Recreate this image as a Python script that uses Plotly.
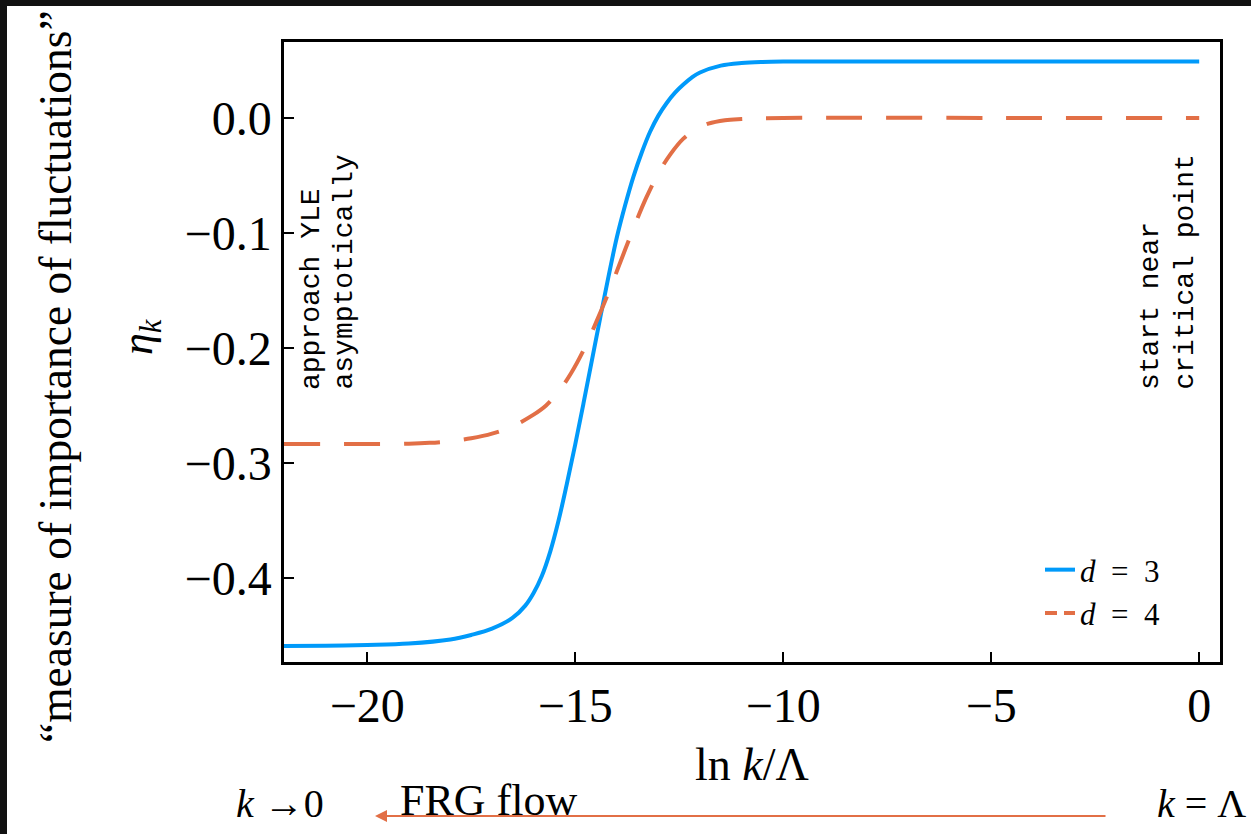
import plotly.graph_objects as go

# ---- data ----
x_d3 = [-22, -21, -20, -19, -18, -17.5, -17, -16.5, -16.2, -16.0, -15.8, -15.6,
        -15.4, -15.2, -15.0, -14.8, -14.6, -14.4, -14.2, -14.0, -13.8, -13.6,
        -13.4, -13.2, -13.0, -12.8, -12.6, -12.4, -12.2, -12.0, -11.5, -11.0,
        -10.5, -10, -5, 0]
eta_d3 = [-0.459, -0.4588, -0.4582, -0.4570, -0.4535, -0.4495, -0.4440, -0.4345,
          -0.424, -0.413, -0.398, -0.377, -0.350, -0.318, -0.284, -0.248, -0.211,
          -0.174, -0.138, -0.104, -0.076, -0.051, -0.030, -0.012, 0.002, 0.013,
          0.022, 0.029, 0.035, 0.0395, 0.0455, 0.0478, 0.0487, 0.049, 0.049, 0.049]

x_d4 = [-22, -20, -19, -18.5, -18, -17.5, -17, -16.5, -16.0, -15.7, -15.4, -15.1,
        -14.8, -14.5, -14.2, -13.9, -13.6, -13.3, -13.0, -12.7, -12.4, -12.1,
        -11.8, -11.4, -11, -10, -5, 0]
eta_d4 = [-0.2835, -0.2835, -0.2832, -0.2825, -0.281, -0.2785, -0.2745, -0.268,
          -0.258, -0.250, -0.238, -0.222, -0.202, -0.178, -0.152, -0.124, -0.096,
          -0.070, -0.048, -0.031, -0.018, -0.010, -0.005, -0.002, -0.001, 0.0,
          0.0, 0.0]

x_ticks = [-20, -15, -10, -5, 0]
y_ticks = [0.0, -0.1, -0.2, -0.3, -0.4]
x_range = [-22, 0.5]
y_range = [-0.473, 0.066]

BLUE = "#009AFA"
ORANGE = "#E26F46"
SERIF = "Liberation Serif, Times New Roman, serif"
MONO = "Liberation Mono, Courier New, monospace"

W, H = 1251, 834
L, R, T, B = 284, 1220, 42, 662   # plot area in pixels


def px(xp):
    return (xp - L) / (R - L)


def py(yp):
    return (B - yp) / (B - T)


NB = "\u00a0"

fig = go.Figure()
fig.add_trace(go.Scatter(x=x_d3, y=eta_d3, mode="lines", showlegend=False,
                         line=dict(color=BLUE, width=4, shape="spline", smoothing=1.0)))
fig.add_trace(go.Scatter(x=x_d4, y=eta_d4, mode="lines", showlegend=False,
                         line=dict(color=ORANGE, width=4, dash="36px,24px",
                                   shape="spline", smoothing=1.0)))
# legend entries
fig.add_trace(go.Scatter(x=[None], y=[None], mode="lines",
                         name=f"<i>d</i>{NB}{NB}={NB}{NB}3",
                         line=dict(color=BLUE, width=4)))
fig.add_trace(go.Scatter(x=[None], y=[None], mode="lines",
                         name=f"<i>d</i>{NB}{NB}={NB}{NB}4",
                         line=dict(color=ORANGE, width=4, dash="12px,7px")))

axis_common = dict(showgrid=False, zeroline=False, showline=True, mirror=True,
                   linecolor="black", linewidth=2.5, ticks="inside", ticklen=10,
                   tickwidth=2, tickcolor="black",
                   tickfont=dict(family=SERIF, size=48, color="black"))

fig.update_xaxes(range=x_range, tickvals=x_ticks, **axis_common)
fig.update_yaxes(range=y_range, tickvals=y_ticks, tickformat=".1f", **axis_common)

ann = []
# y titles
ann.append(dict(x=px(55), y=py(377), xref="paper", yref="paper", textangle=-90,
                text="\u201cmeasure of importance of fluctuations\u201d", showarrow=False,
                font=dict(family=SERIF, size=45.5, color="black"),
                xanchor="center", yanchor="middle"))
ann.append(dict(x=px(140), y=py(337), xref="paper", yref="paper", textangle=-90,
                text="<i>\u03b7</i><sub><i>k</i></sub>", showarrow=False,
                font=dict(family=SERIF, size=44, color="black"),
                xanchor="center", yanchor="middle"))
# x title
ann.append(dict(x=px(752), y=py(765), xref="paper", yref="paper",
                text="ln <i>k</i>/\u039b", showarrow=False,
                font=dict(family=SERIF, size=46, color="black"),
                xanchor="center", yanchor="middle"))
# monospace notes
for txt, cx in [("approach YLE", 311), ("asymptotically", 344),
                ("start near", 1150), ("critical point", 1185)]:
    ann.append(dict(x=px(cx), y=py(391), xref="paper", yref="paper", textangle=-90,
                    text=txt, showarrow=False,
                    font=dict(family=MONO, size=28, color="black"),
                    xanchor="center", yanchor="bottom", borderpad=0))
# bottom flow line
ann.append(dict(x=px(375), y=py(816), xref="paper", yref="paper",
                ax=1107 - 375, ay=0, axref="pixel", ayref="pixel",
                text="", showarrow=True, arrowhead=2, arrowsize=1.2,
                arrowwidth=2, arrowcolor=ORANGE))
ann.append(dict(x=px(398), y=py(800), xref="paper", yref="paper",
                text="FRG flow", showarrow=False,
                font=dict(family=SERIF, size=44, color="black"),
                xanchor="left", yanchor="middle"))
ann.append(dict(x=px(280), y=py(803), xref="paper", yref="paper",
                text="<i>k</i> \u21920", showarrow=False,
                font=dict(family=SERIF, size=40, color="black"),
                xanchor="center", yanchor="middle"))
ann.append(dict(x=px(1155), y=py(803), xref="paper", yref="paper",
                text="<i>k</i> = \u039b", showarrow=False,
                font=dict(family=SERIF, size=40, color="black"),
                xanchor="left", yanchor="middle"))

shapes = [
    dict(type="rect", xref="paper", yref="paper", x0=px(0), x1=px(7), y0=py(H), y1=py(0),
         fillcolor="#111111", line=dict(width=0), layer="above"),
    dict(type="rect", xref="paper", yref="paper", x0=px(0), x1=px(W), y0=py(6), y1=py(0),
         fillcolor="#111111", line=dict(width=0), layer="above"),
]

fig.update_layout(
    width=W, height=H,
    margin=dict(l=L, r=W - R, t=T, b=H - B, pad=0),
    paper_bgcolor="white", plot_bgcolor="white",
    annotations=ann, shapes=shapes,
    legend=dict(x=px(1040), y=py(543), xanchor="left", yanchor="top",
                bgcolor="rgba(255,255,255,0)", borderwidth=0,
                font=dict(family=SERIF, size=31, color="black"),
                tracegroupgap=0),
)

fig.write_html("out.html")
